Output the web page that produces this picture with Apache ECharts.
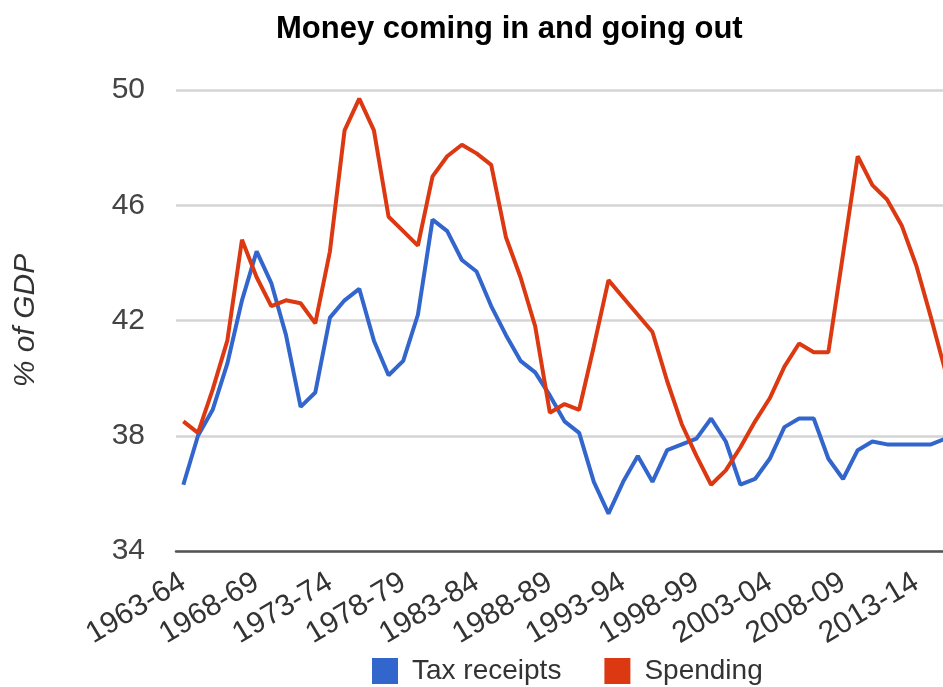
<!DOCTYPE html>
<html>
<head>
<meta charset="utf-8">
<script src="https://cdn.jsdelivr.net/npm/echarts@6/dist/echarts.min.js"></script>
<style>
html,body{margin:0;padding:0;background:#fff;}
#chart{width:943px;height:687px;}
</style>
</head>
<body>
<div id="chart"></div>
<script>
var years = ['1963-64','1964-65','1965-66','1966-67','1967-68','1968-69','1969-70','1970-71','1971-72','1972-73',
  '1973-74','1974-75','1975-76','1976-77','1977-78','1978-79','1979-80','1980-81','1981-82','1982-83',
  '1983-84','1984-85','1985-86','1986-87','1987-88','1988-89','1989-90','1990-91','1991-92','1992-93',
  '1993-94','1994-95','1995-96','1996-97','1997-98','1998-99','1999-00','2000-01','2001-02','2002-03',
  '2003-04','2004-05','2005-06','2006-07','2007-08','2008-09','2009-10','2010-11','2011-12','2012-13',
  '2013-14','2014-15','2015-16'];
var taxReceipts = [36.3,38.0,38.9,40.5,42.7,44.4,43.3,41.5,39.0,39.5,
  42.1,42.7,43.1,41.3,40.1,40.6,42.2,45.5,45.1,44.1,
  43.7,42.5,41.5,40.6,40.2,39.4,38.5,38.1,36.4,35.3,
  36.4,37.3,36.4,37.5,37.7,37.9,38.6,37.8,36.3,36.5,
  37.2,38.3,38.6,38.6,37.2,36.5,37.5,37.8,37.7,37.7,
  37.7,37.7,37.9];
var spending = [38.5,38.1,39.6,41.3,44.8,43.5,42.5,42.7,42.6,41.9,
  44.4,48.6,49.7,48.6,45.6,45.1,44.6,47.0,47.7,48.1,
  47.8,47.4,44.9,43.5,41.8,38.8,39.1,38.9,41.1,43.4,
  42.8,42.2,41.6,39.9,38.4,37.3,36.3,36.8,37.6,38.5,
  39.3,40.4,41.2,40.9,40.9,44.3,47.7,46.7,46.2,45.3,
  43.9,42.1,40.2];
var yTicks = {min: 34, max: 50, step: 4};

var chart = echarts.init(document.getElementById('chart'));
var FONT = '"Liberation Sans", Arial, sans-serif';
chart.setOption({
  animation: false,
  backgroundColor: '#ffffff',
  title: {
    text: 'Money coming in and going out',
    left: 271,
    top: 9,
    textStyle: {fontFamily: FONT, fontSize: 31, fontWeight: 'bold', color: '#000'}
  },
  legend: {
    data: ['Tax receipts', 'Spending'],
    left: 367,
    top: 652,
    icon: 'rect',
    itemWidth: 26,
    itemHeight: 26,
    itemGap: 43,
    textStyle: {fontFamily: FONT, fontSize: 28, color: '#333', padding: [0, 0, 0, 9]}
  },
  grid: {left: 176, top: 90, width: 777, height: 461, containLabel: false, outerBoundsMode: 'none'},
  xAxis: {
    type: 'category',
    data: years,
    boundaryGap: true,
    axisLine: {show: true, lineStyle: {color: '#555', width: 2.5}},
    axisTick: {show: false},
    axisLabel: {interval: 4, rotate: 31, margin: 29, fontFamily: FONT, fontSize: 30, color: '#333'},
    splitLine: {show: false}
  },
  yAxis: {
    type: 'value',
    min: yTicks.min,
    max: yTicks.max,
    interval: yTicks.step,
    name: '% of GDP',
    nameLocation: 'middle',
    nameRotate: 90,
    nameGap: 135,
    nameTextStyle: {fontFamily: FONT, fontSize: 30, fontStyle: 'italic', color: '#333'},
    axisLine: {show: false},
    axisTick: {show: false},
    axisLabel: {margin: 31, fontFamily: FONT, fontSize: 30, color: '#444'},
    splitLine: {show: true, lineStyle: {color: '#d4d4d4', width: 2.5}}
  },
  series: [
    {name: 'Tax receipts', type: 'line', data: taxReceipts, symbol: 'none',
     lineStyle: {color: '#3366cc', width: 4}, itemStyle: {color: '#3366cc'}},
    {name: 'Spending', type: 'line', data: spending, symbol: 'none',
     lineStyle: {color: '#dc3912', width: 4}, itemStyle: {color: '#dc3912'}}
  ]
});
</script>
</body>
</html>
